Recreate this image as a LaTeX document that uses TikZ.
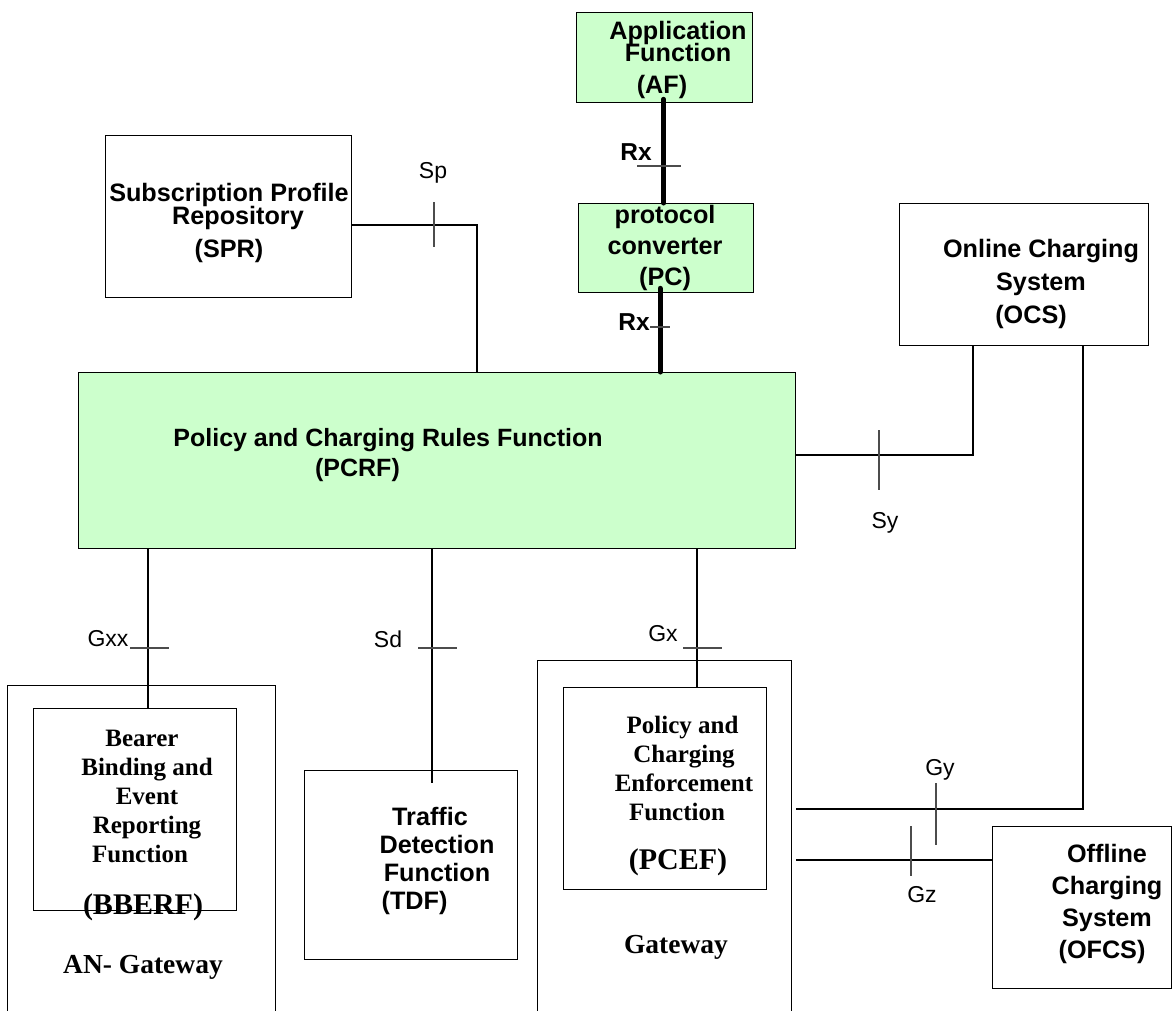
\documentclass[tikz,border=0pt]{standalone}
\usepackage{fontspec}
\setmainfont{Liberation Serif}
\setsansfont{Liberation Sans}
\usetikzlibrary{calc}
\definecolor{pcrfgreen}{RGB}{204,255,204}
\newcommand\tightskip{\setlength{\lineskiplimit}{-50pt}}
\tikzstyle{block} = [draw, line width=1.3pt, rectangle, anchor=north west, inner sep=0pt]
\tikzstyle{blockG} = [block, fill=pcrfgreen]
\tikzstyle{link} = [line width=1.4pt]
\tikzstyle{rxlink} = [line width=5pt, line cap=round]
\tikzstyle{tick} = [line width=1.1pt, black!70]
\tikzstyle{iface} = [font=\sffamily\fontsize{23}{23}\selectfont, inner sep=0pt]
\tikzstyle{ifaceB} = [font=\sffamily\bfseries\fontsize{24.5}{24.5}\selectfont, inner sep=0pt]
\tikzstyle{acronym} = [font=\bfseries\fontsize{30}{30}\selectfont, inner sep=0pt]
\tikzstyle{gwtext} = [font=\bfseries\fontsize{27.5}{30}\selectfont, inner sep=0pt]
\tikzset{boxtext/.style={font={\sffamily\bfseries\fontsize{25.2}{#1}\selectfont\tightskip},
    align=center, inner sep=0pt}, boxtext/.default=31,
  serifbody/.style={font={\bfseries\fontsize{25}{29}\selectfont\tightskip},
    align=center, inner sep=0pt}}

\begin{document}
\begin{tikzpicture}[x=1pt, y=-1pt]
    \useasboundingbox (0,0) rectangle (1173,1010);
    \clip (0,0) rectangle (1173,1010);
    % We start by placing the blocks
    \node [blockG, minimum width=176, minimum height=90] (af) at (576,12) {};
    \node [blockG, minimum width=175, minimum height=89] (pc) at (578,203) {};
    \node [block, minimum width=246, minimum height=162] (spr) at (105,135) {};
    \node [block, minimum width=249, minimum height=142] (ocs) at (899,203) {};
    \node [blockG, minimum width=717, minimum height=176] (pcrf) at (78,372) {};
    \node [block, minimum width=268, minimum height=400] (angw) at (7,685) {};
    \node [block, minimum width=203, minimum height=202] (bberf) at (33,708) {};
    \node [block, minimum width=213, minimum height=189] (tdf) at (304,770) {};
    \node [block, minimum width=254, minimum height=400] (gw) at (537,660) {};
    \node [block, minimum width=203, minimum height=202] (pcef) at (563,687) {};
    \node [block, minimum width=179, minimum height=162] (ofcs) at (992,826) {};

    % Bends and crossing points of the interfaces
    \coordinate (spc) at (477,225);
    \coordinate (syc) at (973,455);
    \coordinate (gyc) at (1083,809);
    \coordinate (gzc) at (992,860);
    \coordinate (gxxc) at (148,648);
    \coordinate (sdc) at (432,648);
    \coordinate (gxc) at (697,648);
    \coordinate (rxb) at ($(pc.south)+(-6,0)$);

    % Once the nodes are placed, connecting them is easy.
    \draw [rxlink] ($(af.south)+(-1,-4)$) -- ($(af.south |- pc.north)+(-1,0)$);
    \draw [rxlink] ($(rxb)+(0,-5)$) -- (rxb |- pcrf.north);
    \draw [link] (spc -| spr.east) -- (spc) -- (spc |- pcrf.north);
    \draw [link] (syc -| pcrf.east) -- (syc) -- (syc |- ocs.south);
    \draw [link] (gyc |- ocs.south) -- (gyc) -- ($(gyc -| gw.east)+(4,0)$);
    \draw [link] ($(gzc -| gw.east)+(4,0)$) -- (gzc -| ofcs.west);
    \draw [link] (gxxc |- pcrf.south) -- (gxxc |- bberf.north);
    \draw [link] (sdc |- pcrf.south) -- ($(sdc |- tdf.north)+(0,13)$);
    \draw [link] (gxc |- pcrf.south) -- (gxc |- pcef.north);

    % interface ticks
    \foreach \xa/\ya/\xb/\yb in {434/202/434/247, 637/166/681/166, 650/327/670/327,
        879/430/879/490, 936/783/936/845, 911/826/911/876,
        130/648/169/648, 418/648/457/648, 683/648/722/648}
        \draw [tick] (\xa,\ya) -- (\xb,\yb);

    % interface names
    \node [iface] (lblsp) at (433,173) {Sp};
    \node [ifaceB] (lblrxa) at (636,152) {Rx};
    \node [ifaceB] (lblrxb) at (634,322) {Rx};
    \node [iface] (lblsy) at (885,523) {Sy};
    \node [iface] (lblgy) at (940,770) {Gy};
    \node [iface] (lblgz) at (922,895) {Gz};
    \node [iface] (lblgxx) at (108,639) {Gxx};
    \node [iface] (lblsd) at (388,639) {Sd};
    \node [iface] (lblgx) at (663,634) {Gx};

    % texts of the blocks
    \node [boxtext=22.5] (aftxt) at (678,60) {Application\\Function\hspace*{31pt}\\[9.5pt](AF)\hspace*{32pt}};
    \node [boxtext] (pctxt) at (665,248) {protocol\\converter\\(PC)};
    \node [boxtext=22.5] (sprtxt) at (229,223) {Subscription Profile\\\hspace*{18pt}Repository\\[10.5pt](SPR)};
    \node [boxtext=33] (ocstxt) at (1041,284) {Online Charging\\System\hspace*{10pt}\\(OCS)\hspace*{20pt}};
    \node [boxtext=31.7] (ofcstxt) at (1107,904) {Offline\\Charging\\System\\(OFCS)\hspace*{10pt}};
    \node [boxtext=28.3] (tdftxt) at (437,861) {Traffic\hspace*{14pt}\\Detection\\Function\hspace*{10pt}\\(TDF)\hspace*{45pt}};
    \node [boxtext=30, font={\sffamily\bfseries\fontsize{25}{30}\selectfont}] (pcrftxt) at (388,455)
        {Policy and Charging Rules Function\\(PCRF)\hspace*{61pt}};
    \node [serifbody] (bberftxt) at (147,796) {Bearer\hspace*{10pt}\\Binding and\\Event\hspace*{10pt}\\Reporting\hspace*{4pt}\\Function\hspace*{14pt}};
    \node [acronym] (bberfacr) at (143,907) {(BBERF)};
    \node [gwtext] (angwtxt) at (143,967) {AN- Gateway};
    \node [serifbody] (pceftxt) at (684,768) {Policy and\hspace*{3pt}\\Charging\hspace*{5pt}\\Enforcement\\Function\hspace*{14pt}};
    \node [acronym] (pcefacr) at (678,862) {(PCEF)};
    \node [gwtext] (gwtxt) at (676,947) {Gateway};
\end{tikzpicture}
\end{document}
